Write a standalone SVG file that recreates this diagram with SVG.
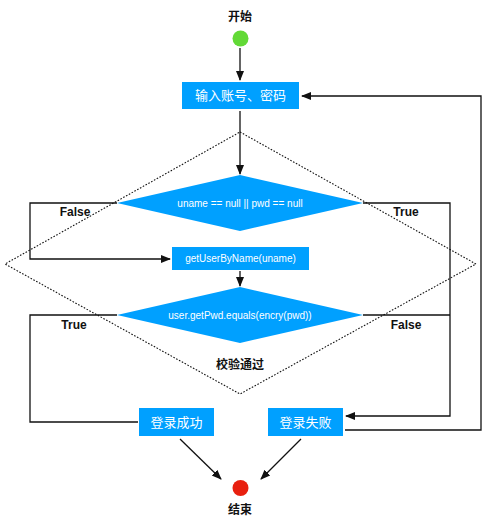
<svg xmlns="http://www.w3.org/2000/svg" width="500" height="525" viewBox="0 0 500 525">
<style>
.box{fill:#00A0FF;}
.cj{font-family:"Noto Sans CJK SC",sans-serif;font-size:13px;fill:#fff;text-anchor:middle;}
.en{font-family:"Liberation Sans",sans-serif;font-size:10px;fill:#fff;text-anchor:middle;}
.lbl{font-family:"Liberation Sans","Noto Sans CJK SC",sans-serif;font-size:12px;font-weight:bold;fill:#111;text-anchor:middle;}
.ln{fill:none;stroke:#111;stroke-width:1.3;}
.dash{fill:none;stroke:#111;stroke-width:1.1;stroke-dasharray:1.6 1.6;}
</style>
<defs>
<marker id="ah" viewBox="0 0 10 10" refX="9" refY="5" markerWidth="10" markerHeight="10" markerUnits="userSpaceOnUse" orient="auto">
<path d="M0,1 L10,5 L0,9 Z" fill="#111"/>
</marker>
</defs>
<g id="validate-group">
<polygon class="dash" points="240,132 476,264 240,394 5,264"/>
<text class="lbl" x="240" y="369">校验通过</text>
</g>
<g id="connectors">
<line class="ln" x1="240" y1="48" x2="240" y2="80" marker-end="url(#ah)"/>
<line class="ln" x1="240" y1="111" x2="240" y2="174" marker-end="url(#ah)"/>
<polyline class="ln" points="117,203 30,203 30,259 170,259" marker-end="url(#ah)"/>
<polyline class="ln" points="363,203 450,203 450,416 346,416" marker-end="url(#ah)"/>
<line class="ln" x1="240" y1="271" x2="240" y2="286" marker-end="url(#ah)"/>
<polyline class="ln" points="117,315 30,315 30,422 138,422"/>
<line class="ln" x1="363" y1="315" x2="450" y2="315"/>
<polyline class="ln" points="345,430 481,430 481,96 302,96" marker-end="url(#ah)"/>
<line class="ln" x1="180" y1="439" x2="221" y2="479" marker-end="url(#ah)"/>
<line class="ln" x1="301" y1="439" x2="261" y2="479" marker-end="url(#ah)"/>
<text class="lbl" x="75" y="216">False</text>
<text class="lbl" x="406" y="216">True</text>
<text class="lbl" x="74" y="329">True</text>
<text class="lbl" x="406" y="329">False</text>
</g>
<g id="start">
<circle cx="240.5" cy="38.5" r="8" fill="#62D936"/>
<text class="lbl" x="240" y="21">开始</text>
</g>
<g id="input">
<rect class="box" x="182" y="82" width="117" height="27"/>
<text class="cj" x="240.5" y="100">输入账号、密码</text>
</g>
<g id="check-null">
<polygon class="box" points="240,175 363,203 240,231 117,203"/>
<text class="en" x="240" y="206.5">uname == null || pwd == null</text>
</g>
<g id="get-user">
<rect class="box" x="172" y="247" width="137" height="23"/>
<text class="en" x="240.5" y="262">getUserByName(uname)</text>
</g>
<g id="check-pwd">
<polygon class="box" points="240,287 363,315 240,343 117,315"/>
<text class="en" x="240" y="318.5">user.getPwd.equals(encry(pwd))</text>
</g>
<g id="success">
<rect class="box" x="139" y="408" width="75" height="28"/>
<text class="cj" x="176.5" y="426.5">登录成功</text>
</g>
<g id="fail">
<rect class="box" x="268" y="408" width="75" height="28"/>
<text class="cj" x="305.5" y="426.5">登录失败</text>
</g>
<g id="end">
<circle cx="240.5" cy="488" r="8" fill="#E8200F"/>
<text class="lbl" x="240" y="514">结束</text>
</g>
</svg>
